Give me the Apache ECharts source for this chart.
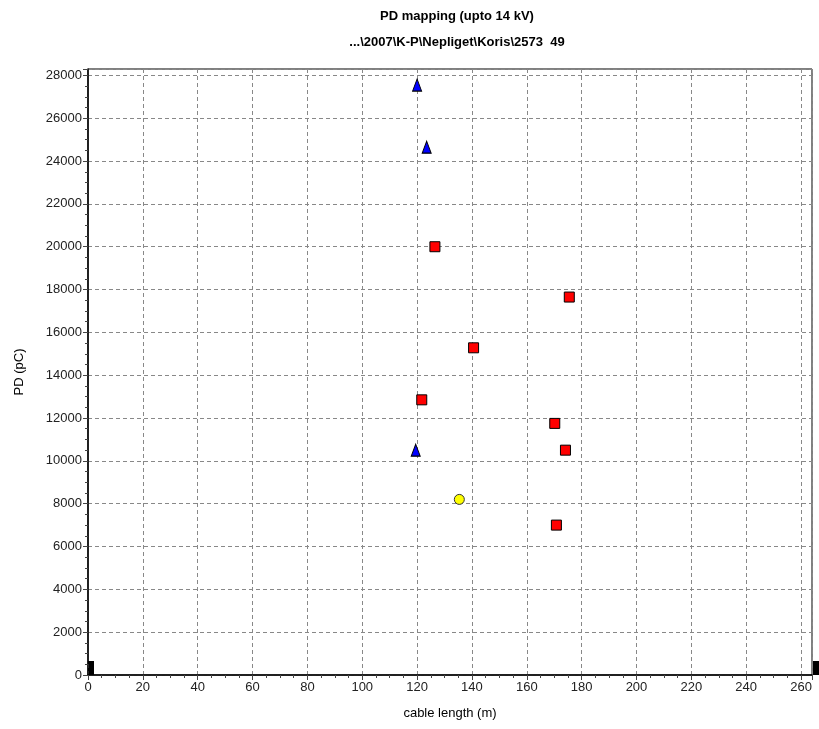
<!DOCTYPE html>
<html>
<head>
<meta charset="utf-8">
<script src="https://cdn.jsdelivr.net/npm/echarts@6/dist/echarts.min.js"></script>
<style>
  html, body { margin: 0; padding: 0; background: #fff; }
  #chart { width: 819px; height: 729px; }
</style>
</head>
<body>
<div id="chart"></div>
<script>
// PD events: cable length (m) / PD (pC)
const squareX = [126.5, 175.5, 140.6, 121.7, 170.2, 174.1, 170.8];
const squareY = [20000, 17650, 15280, 12850, 11750, 10500, 7000];
const triangleX = [120.0, 123.5, 119.5];
const triangleY = [27550, 24650, 10500];
const circleX = [135.4];
const circleY = [8200];

const titleText = 'PD mapping (upto 14 kV)';
const subText = '...\\2007\\K-P\\Nepliget\\Koris\\2573  49';

const font = 'Liberation Sans, Arial, sans-serif';

function pairs(xs, ys) {
  return xs.map((x, i) => [x, ys[i]]);
}

const chart = echarts.init(document.getElementById('chart'));

const option = {
  backgroundColor: '#fff',
  animation: false,
  title: {
    text: titleText,
    subtext: subText,
    left: 452,
    textAlign: 'center',
    top: 5,
    itemGap: 13,
    textStyle: { fontFamily: font, fontSize: 13, fontWeight: 'bold', color: '#000' },
    subtextStyle: { fontFamily: font, fontSize: 13, fontWeight: 'bold', color: '#000' }
  },
  grid: {
    left: 88,
    right: 7,
    top: 69,
    bottom: 54,
    show: true,
    borderColor: '#000',
    borderWidth: 1
  },
  xAxis: {
    type: 'value',
    min: 0,
    max: 264,
    interval: 20,
    name: 'cable length (m)',
    nameLocation: 'middle',
    nameGap: 32,
    nameTextStyle: { fontFamily: font, fontSize: 13, color: '#000' },
    axisLine: { lineStyle: { color: '#000', width: 1.5 } },
    axisTick: { show: true, length: 5, lineStyle: { color: '#444' } },
    minorTick: { show: true, splitNumber: 4, length: 3, lineStyle: { color: '#444' } },
    axisLabel: {
      fontFamily: font, fontSize: 13, color: '#222', margin: 6,
      showMaxLabel: false
    },
    splitLine: { show: true, lineStyle: { color: '#888', type: [4, 3] } }
  },
  yAxis: {
    type: 'value',
    min: 0,
    max: 28300,
    interval: 2000,
    name: 'PD (pC)',
    nameLocation: 'middle',
    nameGap: 62,
    nameTextStyle: { fontFamily: font, fontSize: 13, color: '#000' },
    axisLine: { lineStyle: { color: '#000', width: 1.5 } },
    axisTick: { show: true, length: 5, lineStyle: { color: '#444' } },
    minorTick: { show: true, splitNumber: 4, length: 3, lineStyle: { color: '#444' } },
    axisLabel: {
      fontFamily: font, fontSize: 13, color: '#222', margin: 6,
      showMaxLabel: false,
      formatter: (v) => String(v)
    },
    splitLine: { show: true, lineStyle: { color: '#888', type: [4, 3] } }
  },
  series: [
    {
      type: 'scatter',
      symbol: 'rect',
      symbolSize: 10,
      itemStyle: { color: '#ff0000', borderColor: '#000', borderWidth: 1, opacity: 1 },
      data: pairs(squareX, squareY)
    },
    {
      type: 'scatter',
      symbol: 'triangle',
      symbolSize: [9, 12],
      itemStyle: { color: '#0000ff', borderColor: '#000', borderWidth: 1, opacity: 1 },
      data: pairs(triangleX, triangleY)
    },
    {
      type: 'scatter',
      symbol: 'circle',
      symbolSize: 10,
      itemStyle: { color: '#ffff00', borderColor: '#333', borderWidth: 1, opacity: 1 },
      data: pairs(circleX, circleY)
    }
  ],
  // the two black cursor blocks at the ends of the cable
  graphic: [
    { type: 'rect', shape: { x: 88, y: 661, width: 6, height: 14 }, style: { fill: '#000' } },
    { type: 'rect', shape: { x: 813, y: 661, width: 6, height: 14 }, style: { fill: '#000' } }
  ]
};

chart.setOption(option);
</script>
</body>
</html>
